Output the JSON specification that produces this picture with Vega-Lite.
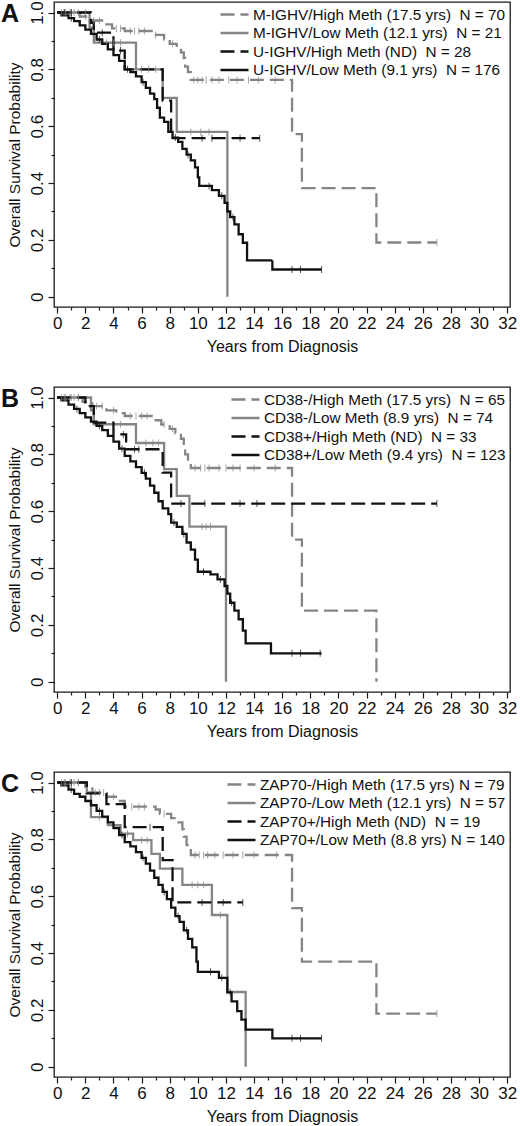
{
  "$schema": "https://vega.github.io/schema/vega-lite/v6.json",
  "background": "white",
  "padding": {"left": 0, "top": 0, "right": 0, "bottom": 0},
  "spacing": 30,
  "datasets": {
    "series": [
      {"k": "A1", "p": "A", "label": "M-IGHV/High Meth (17.5 yrs)\u00a0\u00a0N = 70"},
      {"k": "A2", "p": "A", "label": "M-IGHV/Low Meth (12.1 yrs)\u00a0\u00a0N = 21"},
      {"k": "A3", "p": "A", "label": "U-IGHV/High Meth (ND)\u00a0\u00a0N = 28"},
      {"k": "A4", "p": "A", "label": "U-IGHV/Low Meth (9.1 yrs)\u00a0\u00a0N = 176"},
      {"k": "B1", "p": "B", "label": "CD38-/High Meth (17.5 yrs)\u00a0\u00a0N = 65"},
      {"k": "B2", "p": "B", "label": "CD38-/Low Meth (8.9 yrs)\u00a0\u00a0N = 74"},
      {"k": "B3", "p": "B", "label": "CD38+/High Meth (ND)\u00a0\u00a0N = 33"},
      {"k": "B4", "p": "B", "label": "CD38+/Low Meth (9.4 yrs)\u00a0\u00a0N = 123"},
      {"k": "C1", "p": "C", "label": "ZAP70-/High Meth (17.5 yrs) N = 79"},
      {"k": "C2", "p": "C", "label": "ZAP70-/Low Meth (12.1 yrs)\u00a0\u00a0N = 57"},
      {"k": "C3", "p": "C", "label": "ZAP70+/High Meth (ND)\u00a0\u00a0N = 19"},
      {"k": "C4", "p": "C", "label": "ZAP70+/Low Meth (8.8 yrs) N = 140"}
    ],
    "curves": [
      {"k": "A1", "t": 0, "s": 1}, {"k": "A1", "t": 1.6, "s": 0.986}, {"k": "A1", "t": 2.3, "s": 0.972}, {"k": "A1", "t": 3.4, "s": 0.958},
      {"k": "A1", "t": 3.9, "s": 0.944}, {"k": "A1", "t": 4.8, "s": 0.935}, {"k": "A1", "t": 6.8, "s": 0.921}, {"k": "A1", "t": 7.6, "s": 0.905},
      {"k": "A1", "t": 8.0, "s": 0.89}, {"k": "A1", "t": 8.5, "s": 0.875}, {"k": "A1", "t": 8.8, "s": 0.86}, {"k": "A1", "t": 9.0, "s": 0.84},
      {"k": "A1", "t": 9.1, "s": 0.81}, {"k": "A1", "t": 9.3, "s": 0.79}, {"k": "A1", "t": 9.5, "s": 0.763}, {"k": "A1", "t": 16.7, "s": 0.572},
      {"k": "A1", "t": 17.4, "s": 0.382}, {"k": "A1", "t": 22.7, "s": 0.191}, {"k": "A1", "t": 27.0, "s": 0.191},

      {"k": "A2", "t": 0, "s": 1}, {"k": "A2", "t": 2.3, "s": 0.947}, {"k": "A2", "t": 2.6, "s": 0.894}, {"k": "A2", "t": 5.6, "s": 0.8},
      {"k": "A2", "t": 7.5, "s": 0.7}, {"k": "A2", "t": 8.5, "s": 0.58}, {"k": "A2", "t": 12.1, "s": 0},

      {"k": "A3", "t": 0, "s": 1}, {"k": "A3", "t": 2.4, "s": 0.964}, {"k": "A3", "t": 2.6, "s": 0.929}, {"k": "A3", "t": 4.0, "s": 0.866},
      {"k": "A3", "t": 4.8, "s": 0.8}, {"k": "A3", "t": 7.5, "s": 0.69}, {"k": "A3", "t": 8.1, "s": 0.558}, {"k": "A3", "t": 14.4, "s": 0.558},

      {"k": "A4", "t": 0, "s": 1}, {"k": "A4", "t": 0.3, "s": 0.99}, {"k": "A4", "t": 0.8, "s": 0.98}, {"k": "A4", "t": 1.2, "s": 0.97},
      {"k": "A4", "t": 1.6, "s": 0.955}, {"k": "A4", "t": 2.0, "s": 0.94}, {"k": "A4", "t": 2.4, "s": 0.925}, {"k": "A4", "t": 2.8, "s": 0.905},
      {"k": "A4", "t": 3.2, "s": 0.89}, {"k": "A4", "t": 3.6, "s": 0.87}, {"k": "A4", "t": 4.0, "s": 0.85}, {"k": "A4", "t": 4.4, "s": 0.83},
      {"k": "A4", "t": 4.8, "s": 0.8}, {"k": "A4", "t": 5.2, "s": 0.79}, {"k": "A4", "t": 5.6, "s": 0.775}, {"k": "A4", "t": 6.0, "s": 0.755},
      {"k": "A4", "t": 6.3, "s": 0.735}, {"k": "A4", "t": 6.6, "s": 0.715}, {"k": "A4", "t": 6.9, "s": 0.695}, {"k": "A4", "t": 7.1, "s": 0.665},
      {"k": "A4", "t": 7.3, "s": 0.63}, {"k": "A4", "t": 7.6, "s": 0.615}, {"k": "A4", "t": 7.9, "s": 0.58}, {"k": "A4", "t": 8.2, "s": 0.56},
      {"k": "A4", "t": 8.6, "s": 0.545}, {"k": "A4", "t": 8.9, "s": 0.52}, {"k": "A4", "t": 9.2, "s": 0.5}, {"k": "A4", "t": 9.5, "s": 0.48},
      {"k": "A4", "t": 9.8, "s": 0.455}, {"k": "A4", "t": 10.0, "s": 0.42}, {"k": "A4", "t": 10.1, "s": 0.39}, {"k": "A4", "t": 11.0, "s": 0.375},
      {"k": "A4", "t": 11.5, "s": 0.355}, {"k": "A4", "t": 11.9, "s": 0.33}, {"k": "A4", "t": 12.1, "s": 0.3}, {"k": "A4", "t": 12.3, "s": 0.28},
      {"k": "A4", "t": 12.6, "s": 0.255}, {"k": "A4", "t": 12.9, "s": 0.22}, {"k": "A4", "t": 13.2, "s": 0.19}, {"k": "A4", "t": 13.5, "s": 0.128},
      {"k": "A4", "t": 15.3, "s": 0.096}, {"k": "A4", "t": 18.8, "s": 0.096},

      {"k": "B1", "t": 0, "s": 1}, {"k": "B1", "t": 1.8, "s": 0.985}, {"k": "B1", "t": 2.5, "s": 0.97}, {"k": "B1", "t": 3.5, "s": 0.955},
      {"k": "B1", "t": 4.2, "s": 0.945}, {"k": "B1", "t": 4.8, "s": 0.935}, {"k": "B1", "t": 6.9, "s": 0.92}, {"k": "B1", "t": 7.4, "s": 0.905},
      {"k": "B1", "t": 8.0, "s": 0.89}, {"k": "B1", "t": 8.4, "s": 0.875}, {"k": "B1", "t": 8.8, "s": 0.855}, {"k": "B1", "t": 9.0, "s": 0.83},
      {"k": "B1", "t": 9.1, "s": 0.8}, {"k": "B1", "t": 9.3, "s": 0.775}, {"k": "B1", "t": 9.5, "s": 0.752}, {"k": "B1", "t": 16.7, "s": 0.5},
      {"k": "B1", "t": 17.4, "s": 0.25}, {"k": "B1", "t": 22.7, "s": 0},

      {"k": "B2", "t": 0, "s": 1}, {"k": "B2", "t": 2.4, "s": 0.955}, {"k": "B2", "t": 2.6, "s": 0.906}, {"k": "B2", "t": 5.6, "s": 0.84},
      {"k": "B2", "t": 7.6, "s": 0.748}, {"k": "B2", "t": 8.5, "s": 0.654}, {"k": "B2", "t": 9.4, "s": 0.546}, {"k": "B2", "t": 12.0, "s": 0},

      {"k": "B3", "t": 0, "s": 1}, {"k": "B3", "t": 2.0, "s": 0.97}, {"k": "B3", "t": 2.6, "s": 0.912}, {"k": "B3", "t": 4.0, "s": 0.87},
      {"k": "B3", "t": 4.9, "s": 0.818}, {"k": "B3", "t": 7.5, "s": 0.736}, {"k": "B3", "t": 8.1, "s": 0.627}, {"k": "B3", "t": 27.0, "s": 0.627},

      {"k": "B4", "t": 0, "s": 1}, {"k": "B4", "t": 0.3, "s": 0.99}, {"k": "B4", "t": 0.8, "s": 0.975}, {"k": "B4", "t": 1.2, "s": 0.96},
      {"k": "B4", "t": 1.6, "s": 0.945}, {"k": "B4", "t": 2.0, "s": 0.93}, {"k": "B4", "t": 2.4, "s": 0.915}, {"k": "B4", "t": 2.8, "s": 0.9},
      {"k": "B4", "t": 3.2, "s": 0.885}, {"k": "B4", "t": 3.6, "s": 0.865}, {"k": "B4", "t": 4.0, "s": 0.845}, {"k": "B4", "t": 4.4, "s": 0.82},
      {"k": "B4", "t": 4.8, "s": 0.795}, {"k": "B4", "t": 5.2, "s": 0.775}, {"k": "B4", "t": 5.6, "s": 0.755}, {"k": "B4", "t": 6.0, "s": 0.735},
      {"k": "B4", "t": 6.3, "s": 0.715}, {"k": "B4", "t": 6.6, "s": 0.69}, {"k": "B4", "t": 6.9, "s": 0.665}, {"k": "B4", "t": 7.2, "s": 0.635},
      {"k": "B4", "t": 7.5, "s": 0.61}, {"k": "B4", "t": 7.9, "s": 0.59}, {"k": "B4", "t": 8.1, "s": 0.56}, {"k": "B4", "t": 8.5, "s": 0.545},
      {"k": "B4", "t": 8.9, "s": 0.52}, {"k": "B4", "t": 9.2, "s": 0.49}, {"k": "B4", "t": 9.5, "s": 0.465}, {"k": "B4", "t": 9.8, "s": 0.43},
      {"k": "B4", "t": 10.0, "s": 0.387}, {"k": "B4", "t": 10.9, "s": 0.378}, {"k": "B4", "t": 11.4, "s": 0.36}, {"k": "B4", "t": 11.9, "s": 0.337},
      {"k": "B4", "t": 12.1, "s": 0.31}, {"k": "B4", "t": 12.3, "s": 0.278}, {"k": "B4", "t": 12.6, "s": 0.25}, {"k": "B4", "t": 12.9, "s": 0.22},
      {"k": "B4", "t": 13.2, "s": 0.18}, {"k": "B4", "t": 13.4, "s": 0.135}, {"k": "B4", "t": 15.2, "s": 0.1}, {"k": "B4", "t": 18.8, "s": 0.1},

      {"k": "C1", "t": 0, "s": 1}, {"k": "C1", "t": 2.0, "s": 0.985}, {"k": "C1", "t": 2.5, "s": 0.965}, {"k": "C1", "t": 3.5, "s": 0.95},
      {"k": "C1", "t": 4.3, "s": 0.935}, {"k": "C1", "t": 4.8, "s": 0.915}, {"k": "C1", "t": 7.0, "s": 0.905}, {"k": "C1", "t": 7.3, "s": 0.89},
      {"k": "C1", "t": 8.1, "s": 0.875}, {"k": "C1", "t": 8.5, "s": 0.86}, {"k": "C1", "t": 8.9, "s": 0.835}, {"k": "C1", "t": 9.0, "s": 0.81},
      {"k": "C1", "t": 9.2, "s": 0.78}, {"k": "C1", "t": 9.5, "s": 0.745}, {"k": "C1", "t": 16.7, "s": 0.558}, {"k": "C1", "t": 17.4, "s": 0.37},
      {"k": "C1", "t": 22.7, "s": 0.187}, {"k": "C1", "t": 27.0, "s": 0.187},

      {"k": "C2", "t": 0, "s": 1}, {"k": "C2", "t": 2.1, "s": 0.965}, {"k": "C2", "t": 2.4, "s": 0.878}, {"k": "C2", "t": 3.6, "s": 0.85},
      {"k": "C2", "t": 4.5, "s": 0.82}, {"k": "C2", "t": 5.4, "s": 0.797}, {"k": "C2", "t": 6.7, "s": 0.749}, {"k": "C2", "t": 7.3, "s": 0.697},
      {"k": "C2", "t": 8.9, "s": 0.64}, {"k": "C2", "t": 11.0, "s": 0.534}, {"k": "C2", "t": 12.1, "s": 0.263}, {"k": "C2", "t": 13.4, "s": 0},

      {"k": "C3", "t": 0, "s": 1}, {"k": "C3", "t": 2.1, "s": 0.962}, {"k": "C3", "t": 3.5, "s": 0.924}, {"k": "C3", "t": 4.8, "s": 0.843},
      {"k": "C3", "t": 7.5, "s": 0.727}, {"k": "C3", "t": 8.2, "s": 0.578}, {"k": "C3", "t": 13.2, "s": 0.578},

      {"k": "C4", "t": 0, "s": 1}, {"k": "C4", "t": 0.3, "s": 0.99}, {"k": "C4", "t": 0.8, "s": 0.975}, {"k": "C4", "t": 1.2, "s": 0.96},
      {"k": "C4", "t": 1.6, "s": 0.95}, {"k": "C4", "t": 2.0, "s": 0.935}, {"k": "C4", "t": 2.4, "s": 0.92}, {"k": "C4", "t": 2.8, "s": 0.9},
      {"k": "C4", "t": 3.2, "s": 0.88}, {"k": "C4", "t": 3.6, "s": 0.86}, {"k": "C4", "t": 4.0, "s": 0.84}, {"k": "C4", "t": 4.4, "s": 0.815},
      {"k": "C4", "t": 4.8, "s": 0.79}, {"k": "C4", "t": 5.2, "s": 0.775}, {"k": "C4", "t": 5.6, "s": 0.755}, {"k": "C4", "t": 6.0, "s": 0.735},
      {"k": "C4", "t": 6.3, "s": 0.715}, {"k": "C4", "t": 6.6, "s": 0.69}, {"k": "C4", "t": 6.9, "s": 0.665}, {"k": "C4", "t": 7.2, "s": 0.64},
      {"k": "C4", "t": 7.5, "s": 0.615}, {"k": "C4", "t": 7.8, "s": 0.59}, {"k": "C4", "t": 8.1, "s": 0.56}, {"k": "C4", "t": 8.4, "s": 0.53},
      {"k": "C4", "t": 8.7, "s": 0.51}, {"k": "C4", "t": 9.0, "s": 0.48}, {"k": "C4", "t": 9.3, "s": 0.45}, {"k": "C4", "t": 9.6, "s": 0.42},
      {"k": "C4", "t": 9.9, "s": 0.37}, {"k": "C4", "t": 10.0, "s": 0.334}, {"k": "C4", "t": 11.5, "s": 0.313}, {"k": "C4", "t": 12.1, "s": 0.262},
      {"k": "C4", "t": 12.4, "s": 0.23}, {"k": "C4", "t": 12.8, "s": 0.196}, {"k": "C4", "t": 13.1, "s": 0.166}, {"k": "C4", "t": 13.4, "s": 0.131},
      {"k": "C4", "t": 15.3, "s": 0.1}, {"k": "C4", "t": 18.8, "s": 0.1}
    ],
    "censored": [
      {"k": "A1", "t": 0.3, "s": 1}, {"k": "A1", "t": 0.6, "s": 1}, {"k": "A1", "t": 0.9, "s": 1}, {"k": "A1", "t": 1.2, "s": 1},
      {"k": "A1", "t": 2.0, "s": 0.986}, {"k": "A1", "t": 2.6, "s": 0.972}, {"k": "A1", "t": 3.0, "s": 0.972}, {"k": "A1", "t": 4.2, "s": 0.944},
      {"k": "A1", "t": 4.5, "s": 0.944}, {"k": "A1", "t": 5.2, "s": 0.935}, {"k": "A1", "t": 5.5, "s": 0.935}, {"k": "A1", "t": 5.8, "s": 0.935},
      {"k": "A1", "t": 6.2, "s": 0.935}, {"k": "A1", "t": 7.0, "s": 0.921}, {"k": "A1", "t": 8.2, "s": 0.89}, {"k": "A1", "t": 9.7, "s": 0.763},
      {"k": "A1", "t": 10.0, "s": 0.763}, {"k": "A1", "t": 10.3, "s": 0.763}, {"k": "A1", "t": 10.6, "s": 0.763}, {"k": "A1", "t": 11.0, "s": 0.763},
      {"k": "A1", "t": 11.5, "s": 0.763}, {"k": "A1", "t": 12.2, "s": 0.763}, {"k": "A1", "t": 12.8, "s": 0.763}, {"k": "A1", "t": 13.6, "s": 0.763},
      {"k": "A1", "t": 14.3, "s": 0.763}, {"k": "A1", "t": 15.5, "s": 0.763}, {"k": "A1", "t": 27.0, "s": 0.191},
      {"k": "A2", "t": 0.5, "s": 1}, {"k": "A2", "t": 1.0, "s": 1}, {"k": "A2", "t": 1.5, "s": 1}, {"k": "A2", "t": 2.0, "s": 1},
      {"k": "A2", "t": 3.5, "s": 0.894}, {"k": "A2", "t": 4.0, "s": 0.894}, {"k": "A2", "t": 4.5, "s": 0.894}, {"k": "A2", "t": 6.0, "s": 0.8},
      {"k": "A2", "t": 6.5, "s": 0.8}, {"k": "A2", "t": 7.0, "s": 0.8}, {"k": "A2", "t": 9.5, "s": 0.58}, {"k": "A2", "t": 10.2, "s": 0.58},
      {"k": "A2", "t": 10.8, "s": 0.58},
      {"k": "A3", "t": 0.5, "s": 1}, {"k": "A3", "t": 1.0, "s": 1}, {"k": "A3", "t": 3.2, "s": 0.929}, {"k": "A3", "t": 4.5, "s": 0.866},
      {"k": "A3", "t": 10.3, "s": 0.558}, {"k": "A3", "t": 11.0, "s": 0.558}, {"k": "A3", "t": 13.0, "s": 0.558}, {"k": "A3", "t": 14.4, "s": 0.558},
      {"k": "A4", "t": 1.0, "s": 0.98}, {"k": "A4", "t": 3.0, "s": 0.905}, {"k": "A4", "t": 5.0, "s": 0.8}, {"k": "A4", "t": 6.1, "s": 0.755},
      {"k": "A4", "t": 8.4, "s": 0.56}, {"k": "A4", "t": 9.3, "s": 0.5}, {"k": "A4", "t": 10.8, "s": 0.39}, {"k": "A4", "t": 11.7, "s": 0.355},
      {"k": "A4", "t": 12.5, "s": 0.28}, {"k": "A4", "t": 16.7, "s": 0.096}, {"k": "A4", "t": 17.3, "s": 0.096}, {"k": "A4", "t": 18.8, "s": 0.096},

      {"k": "B1", "t": 0.3, "s": 1}, {"k": "B1", "t": 0.6, "s": 1}, {"k": "B1", "t": 0.9, "s": 1}, {"k": "B1", "t": 1.2, "s": 1},
      {"k": "B1", "t": 1.5, "s": 1}, {"k": "B1", "t": 2.8, "s": 0.97}, {"k": "B1", "t": 3.2, "s": 0.97}, {"k": "B1", "t": 4.0, "s": 0.955},
      {"k": "B1", "t": 5.2, "s": 0.935}, {"k": "B1", "t": 5.6, "s": 0.935}, {"k": "B1", "t": 6.0, "s": 0.935}, {"k": "B1", "t": 6.4, "s": 0.935},
      {"k": "B1", "t": 7.6, "s": 0.905}, {"k": "B1", "t": 8.2, "s": 0.89}, {"k": "B1", "t": 9.8, "s": 0.752}, {"k": "B1", "t": 10.2, "s": 0.752},
      {"k": "B1", "t": 10.5, "s": 0.752}, {"k": "B1", "t": 10.8, "s": 0.752}, {"k": "B1", "t": 11.5, "s": 0.752}, {"k": "B1", "t": 12.0, "s": 0.752},
      {"k": "B1", "t": 12.5, "s": 0.752}, {"k": "B1", "t": 13.0, "s": 0.752}, {"k": "B1", "t": 14.0, "s": 0.752}, {"k": "B1", "t": 15.5, "s": 0.752},
      {"k": "B2", "t": 0.5, "s": 1}, {"k": "B2", "t": 1.0, "s": 1}, {"k": "B2", "t": 1.5, "s": 1}, {"k": "B2", "t": 4.5, "s": 0.906},
      {"k": "B2", "t": 6.3, "s": 0.84}, {"k": "B2", "t": 6.8, "s": 0.84}, {"k": "B2", "t": 7.2, "s": 0.84}, {"k": "B2", "t": 10.3, "s": 0.546},
      {"k": "B2", "t": 10.6, "s": 0.546}, {"k": "B2", "t": 10.9, "s": 0.546},
      {"k": "B3", "t": 4.7, "s": 0.87}, {"k": "B3", "t": 5.5, "s": 0.818}, {"k": "B3", "t": 5.8, "s": 0.818}, {"k": "B3", "t": 8.8, "s": 0.627},
      {"k": "B3", "t": 10.5, "s": 0.627}, {"k": "B3", "t": 13.0, "s": 0.627}, {"k": "B3", "t": 14.2, "s": 0.627}, {"k": "B3", "t": 27.0, "s": 0.627},
      {"k": "B4", "t": 1.4, "s": 0.96}, {"k": "B4", "t": 3.0, "s": 0.9}, {"k": "B4", "t": 4.6, "s": 0.82}, {"k": "B4", "t": 6.2, "s": 0.735},
      {"k": "B4", "t": 8.3, "s": 0.56}, {"k": "B4", "t": 9.0, "s": 0.52}, {"k": "B4", "t": 10.4, "s": 0.387}, {"k": "B4", "t": 11.6, "s": 0.36},
      {"k": "B4", "t": 12.4, "s": 0.278}, {"k": "B4", "t": 16.7, "s": 0.1}, {"k": "B4", "t": 17.3, "s": 0.1}, {"k": "B4", "t": 18.7, "s": 0.1},

      {"k": "C1", "t": 0.3, "s": 1}, {"k": "C1", "t": 0.6, "s": 1}, {"k": "C1", "t": 0.9, "s": 1}, {"k": "C1", "t": 1.2, "s": 1},
      {"k": "C1", "t": 1.5, "s": 1}, {"k": "C1", "t": 2.7, "s": 0.965}, {"k": "C1", "t": 3.0, "s": 0.965}, {"k": "C1", "t": 3.3, "s": 0.965},
      {"k": "C1", "t": 4.0, "s": 0.95}, {"k": "C1", "t": 5.3, "s": 0.915}, {"k": "C1", "t": 5.8, "s": 0.915}, {"k": "C1", "t": 6.2, "s": 0.915},
      {"k": "C1", "t": 7.6, "s": 0.89}, {"k": "C1", "t": 9.8, "s": 0.745}, {"k": "C1", "t": 10.1, "s": 0.745}, {"k": "C1", "t": 10.4, "s": 0.745},
      {"k": "C1", "t": 10.7, "s": 0.745}, {"k": "C1", "t": 11.2, "s": 0.745}, {"k": "C1", "t": 11.8, "s": 0.745}, {"k": "C1", "t": 12.5, "s": 0.745},
      {"k": "C1", "t": 13.2, "s": 0.745}, {"k": "C1", "t": 14.0, "s": 0.745}, {"k": "C1", "t": 15.6, "s": 0.745}, {"k": "C1", "t": 27.0, "s": 0.187},
      {"k": "C2", "t": 0.5, "s": 1}, {"k": "C2", "t": 1.0, "s": 1}, {"k": "C2", "t": 1.5, "s": 1}, {"k": "C2", "t": 3.0, "s": 0.878},
      {"k": "C2", "t": 5.0, "s": 0.82}, {"k": "C2", "t": 6.0, "s": 0.797}, {"k": "C2", "t": 6.4, "s": 0.797}, {"k": "C2", "t": 9.6, "s": 0.64},
      {"k": "C2", "t": 10.0, "s": 0.64}, {"k": "C2", "t": 10.4, "s": 0.64}, {"k": "C2", "t": 11.6, "s": 0.534},
      {"k": "C3", "t": 1.0, "s": 1}, {"k": "C3", "t": 6.6, "s": 0.843}, {"k": "C3", "t": 10.3, "s": 0.578}, {"k": "C3", "t": 11.8, "s": 0.578},
      {"k": "C3", "t": 13.2, "s": 0.578},
      {"k": "C4", "t": 1.0, "s": 0.975}, {"k": "C4", "t": 3.0, "s": 0.9}, {"k": "C4", "t": 4.6, "s": 0.815}, {"k": "C4", "t": 6.1, "s": 0.735},
      {"k": "C4", "t": 7.6, "s": 0.615}, {"k": "C4", "t": 8.6, "s": 0.53}, {"k": "C4", "t": 9.2, "s": 0.48}, {"k": "C4", "t": 10.9, "s": 0.334},
      {"k": "C4", "t": 11.7, "s": 0.313}, {"k": "C4", "t": 12.3, "s": 0.262}, {"k": "C4", "t": 16.7, "s": 0.1}, {"k": "C4", "t": 17.3, "s": 0.1},
      {"k": "C4", "t": 18.8, "s": 0.1}
    ]
  },
  "vconcat": [
    {
      "width": 456,
      "height": 305,
      "title": {"text": "A"},
      "encoding": {
        "x": {"field": "t", "type": "quantitative", "title": "Years from Diagnosis",
          "scale": {"domain": [-0.23, 32.2], "nice": false, "zero": false},
          "axis": {"values": [0,1,2,3,4,5,6,7,8,9,10,11,12,13,14,15,16,17,18,19,20,21,22,23,24,25,26,27,28,29,30,31,32],
            "labelExpr": "datum.value % 2 === 0 ? datum.label : ''",
            "tickSize": {"condition": {"test": "datum.value % 2 === 0", "value": 6}, "value": 3}}},
        "y": {"field": "s", "type": "quantitative", "title": "Overall Survival Probability",
          "scale": {"domain": [-0.036, 1.037], "nice": false, "zero": false},
          "axis": {"values": [0,0.1,0.2,0.3,0.4,0.5,0.6,0.7,0.8,0.9,1],
            "labelExpr": "round(datum.value*10) % 2 === 0 ? (datum.value === 0 ? '0' : format(datum.value, '.1f')) : ''",
            "tickSize": {"condition": {"test": "round(datum.value*10) % 2 === 0", "value": 6}, "value": 3}}},
        "color": {"field": "label", "type": "nominal", "title": null,
          "scale": {"domain": ["M-IGHV/High Meth (17.5 yrs)\u00a0\u00a0N = 70", "M-IGHV/Low Meth (12.1 yrs)\u00a0\u00a0N = 21", "U-IGHV/High Meth (ND)\u00a0\u00a0N = 28", "U-IGHV/Low Meth (9.1 yrs)\u00a0\u00a0N = 176"],
            "range": ["#858585", "#858585", "#111111", "#111111"]},
          "legend": {"encode": {"symbols": {"update": {"strokeDash": {"signal": "indexof(datum.value, 'High') >= 0 ? [6, 4] : [1, 0]"}}}}}}
      },
      "layer": [
        {
          "data": {"name": "curves"},
          "transform": [
            {"lookup": "k", "from": {"data": {"name": "series"}, "key": "k", "fields": ["p", "label"]}},
            {"filter": "datum.p === 'A'"}
          ],
          "mark": {"type": "line", "interpolate": "step-after", "strokeWidth": 2.3},
          "encoding": {
            "strokeDash": {"field": "label", "type": "nominal", "title": null,
              "scale": {"domain": ["M-IGHV/High Meth (17.5 yrs)\u00a0\u00a0N = 70", "M-IGHV/Low Meth (12.1 yrs)\u00a0\u00a0N = 21", "U-IGHV/High Meth (ND)\u00a0\u00a0N = 28", "U-IGHV/Low Meth (9.1 yrs)\u00a0\u00a0N = 176"],
                "range": [[14, 6], [1, 0], [14, 6], [1, 0]]}}
          }
        },
        {
          "data": {"name": "censored"},
          "transform": [
            {"lookup": "k", "from": {"data": {"name": "series"}, "key": "k", "fields": ["p", "label"]}},
            {"filter": "datum.p === 'A'"}
          ],
          "mark": {"type": "tick", "orient": "vertical", "size": 7, "thickness": 1}
        }
      ]
    },
    {
      "width": 456,
      "height": 305,
      "title": {"text": "B"},
      "encoding": {
        "x": {"field": "t", "type": "quantitative", "title": "Years from Diagnosis",
          "scale": {"domain": [-0.23, 32.2], "nice": false, "zero": false},
          "axis": {"values": [0,1,2,3,4,5,6,7,8,9,10,11,12,13,14,15,16,17,18,19,20,21,22,23,24,25,26,27,28,29,30,31,32],
            "labelExpr": "datum.value % 2 === 0 ? datum.label : ''",
            "tickSize": {"condition": {"test": "datum.value % 2 === 0", "value": 6}, "value": 3}}},
        "y": {"field": "s", "type": "quantitative", "title": "Overall Survival Probability",
          "scale": {"domain": [-0.036, 1.037], "nice": false, "zero": false},
          "axis": {"values": [0,0.1,0.2,0.3,0.4,0.5,0.6,0.7,0.8,0.9,1],
            "labelExpr": "round(datum.value*10) % 2 === 0 ? (datum.value === 0 ? '0' : format(datum.value, '.1f')) : ''",
            "tickSize": {"condition": {"test": "round(datum.value*10) % 2 === 0", "value": 6}, "value": 3}}},
        "color": {"field": "label", "type": "nominal", "title": null,
          "scale": {"domain": ["CD38-/High Meth (17.5 yrs)\u00a0\u00a0N = 65", "CD38-/Low Meth (8.9 yrs)\u00a0\u00a0N = 74", "CD38+/High Meth (ND)\u00a0\u00a0N = 33", "CD38+/Low Meth (9.4 yrs)\u00a0\u00a0N = 123"],
            "range": ["#858585", "#858585", "#111111", "#111111"]},
          "legend": {"encode": {"symbols": {"update": {"strokeDash": {"signal": "indexof(datum.value, 'High') >= 0 ? [6, 4] : [1, 0]"}}}}}}
      },
      "layer": [
        {
          "data": {"name": "curves"},
          "transform": [
            {"lookup": "k", "from": {"data": {"name": "series"}, "key": "k", "fields": ["p", "label"]}},
            {"filter": "datum.p === 'B'"}
          ],
          "mark": {"type": "line", "interpolate": "step-after", "strokeWidth": 2.3},
          "encoding": {
            "strokeDash": {"field": "label", "type": "nominal", "title": null,
              "scale": {"domain": ["CD38-/High Meth (17.5 yrs)\u00a0\u00a0N = 65", "CD38-/Low Meth (8.9 yrs)\u00a0\u00a0N = 74", "CD38+/High Meth (ND)\u00a0\u00a0N = 33", "CD38+/Low Meth (9.4 yrs)\u00a0\u00a0N = 123"],
                "range": [[14, 6], [1, 0], [14, 6], [1, 0]]}}
          }
        },
        {
          "data": {"name": "censored"},
          "transform": [
            {"lookup": "k", "from": {"data": {"name": "series"}, "key": "k", "fields": ["p", "label"]}},
            {"filter": "datum.p === 'B'"}
          ],
          "mark": {"type": "tick", "orient": "vertical", "size": 7, "thickness": 1}
        }
      ]
    },
    {
      "width": 456,
      "height": 305,
      "title": {"text": "C"},
      "encoding": {
        "x": {"field": "t", "type": "quantitative", "title": "Years from Diagnosis",
          "scale": {"domain": [-0.23, 32.2], "nice": false, "zero": false},
          "axis": {"values": [0,1,2,3,4,5,6,7,8,9,10,11,12,13,14,15,16,17,18,19,20,21,22,23,24,25,26,27,28,29,30,31,32],
            "labelExpr": "datum.value % 2 === 0 ? datum.label : ''",
            "tickSize": {"condition": {"test": "datum.value % 2 === 0", "value": 6}, "value": 3}}},
        "y": {"field": "s", "type": "quantitative", "title": "Overall Survival Probability",
          "scale": {"domain": [-0.036, 1.037], "nice": false, "zero": false},
          "axis": {"values": [0,0.1,0.2,0.3,0.4,0.5,0.6,0.7,0.8,0.9,1],
            "labelExpr": "round(datum.value*10) % 2 === 0 ? (datum.value === 0 ? '0' : format(datum.value, '.1f')) : ''",
            "tickSize": {"condition": {"test": "round(datum.value*10) % 2 === 0", "value": 6}, "value": 3}}},
        "color": {"field": "label", "type": "nominal", "title": null,
          "scale": {"domain": ["ZAP70-/High Meth (17.5 yrs) N = 79", "ZAP70-/Low Meth (12.1 yrs)\u00a0\u00a0N = 57", "ZAP70+/High Meth (ND)\u00a0\u00a0N = 19", "ZAP70+/Low Meth (8.8 yrs) N = 140"],
            "range": ["#858585", "#858585", "#111111", "#111111"]},
          "legend": {"encode": {"symbols": {"update": {"strokeDash": {"signal": "indexof(datum.value, 'High') >= 0 ? [6, 4] : [1, 0]"}}}}}}
      },
      "layer": [
        {
          "data": {"name": "curves"},
          "transform": [
            {"lookup": "k", "from": {"data": {"name": "series"}, "key": "k", "fields": ["p", "label"]}},
            {"filter": "datum.p === 'C'"}
          ],
          "mark": {"type": "line", "interpolate": "step-after", "strokeWidth": 2.3},
          "encoding": {
            "strokeDash": {"field": "label", "type": "nominal", "title": null,
              "scale": {"domain": ["ZAP70-/High Meth (17.5 yrs) N = 79", "ZAP70-/Low Meth (12.1 yrs)\u00a0\u00a0N = 57", "ZAP70+/High Meth (ND)\u00a0\u00a0N = 19", "ZAP70+/Low Meth (8.8 yrs) N = 140"],
                "range": [[14, 6], [1, 0], [14, 6], [1, 0]]}}
          }
        },
        {
          "data": {"name": "censored"},
          "transform": [
            {"lookup": "k", "from": {"data": {"name": "series"}, "key": "k", "fields": ["p", "label"]}},
            {"filter": "datum.p === 'C'"}
          ],
          "mark": {"type": "tick", "orient": "vertical", "size": 7, "thickness": 1}
        }
      ]
    }
  ],
  "resolve": {
    "scale": {"color": "independent", "strokeDash": "independent"},
    "legend": {"color": "independent", "strokeDash": "independent"}
  },
  "config": {
    "font": "Liberation Sans",
    "view": {"stroke": "#1a1a1a", "strokeWidth": 1.3},
    "title": {"anchor": "start", "frame": "bounds", "baseline": "alphabetic", "offset": -26, "dx": -6,
      "fontSize": 25, "fontWeight": "bold", "font": "Liberation Sans", "color": "#111111"},
    "axis": {"domain": false, "grid": false, "tickColor": "#1a1a1a", "tickWidth": 1.2,
      "labelColor": "#111111", "titleColor": "#111111", "labelFont": "Liberation Sans", "titleFont": "Liberation Sans",
      "labelFontSize": 17, "titleFontWeight": "normal", "labelFlush": false, "labelOverlap": false},
    "axisX": {"labelPadding": 2, "titleFontSize": 16, "titlePadding": 7},
    "axisY": {"labelAngle": 270, "labelAlign": "center", "labelBaseline": "bottom", "labelPadding": 2,
      "titleFontSize": 15.5, "titlePadding": 6},
    "legend": {"orient": "top-right", "offset": 4, "padding": 0, "symbolType": "M-1,0H3", "symbolSize": 196,
      "symbolStrokeWidth": 2.5, "labelFontSize": 15.3, "labelFont": "Liberation Sans", "labelColor": "#111111",
      "rowPadding": 1.5, "labelOffset": 17, "labelLimit": 400}
  }
}
